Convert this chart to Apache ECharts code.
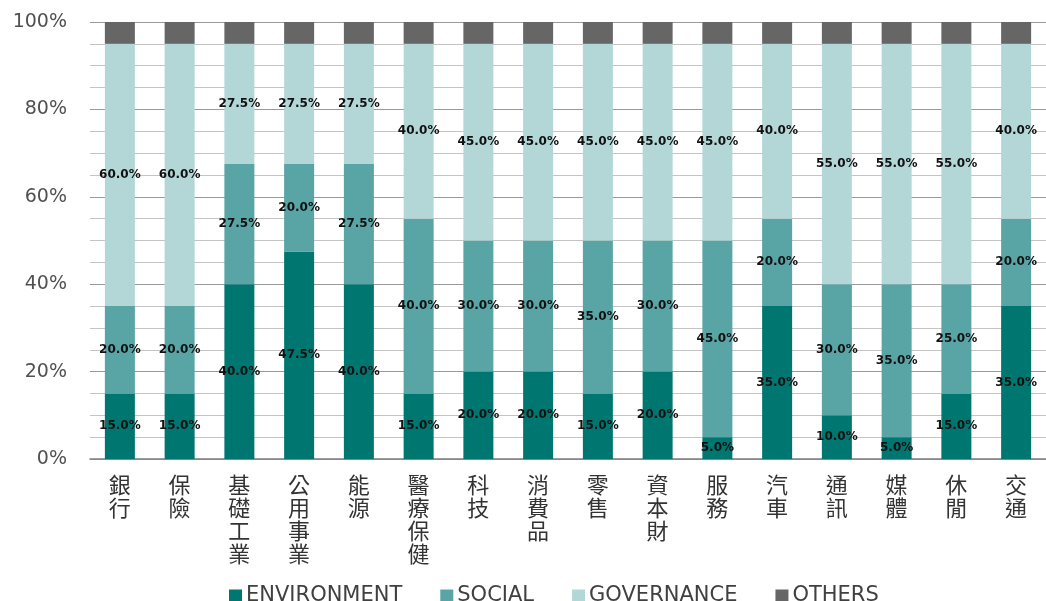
<!DOCTYPE html>
<html>
<head>
<meta charset="utf-8">
<script src="https://cdn.jsdelivr.net/npm/echarts@6/dist/echarts.min.js"></script>
<style>
html,body{margin:0;padding:0;background:#fff;}
#chart{width:1046px;height:601px;}
</style>
</head>
<body>
<div id="chart"></div>
<script>
const categories = ['銀行','保險','基礎工業','公用事業','能源','醫療保健','科技','消費品','零售','資本財','服務','汽車','通訊','媒體','休閒','交通'];
const environment = [15,15,40,47.5,40,15,20,20,15,20,5,35,10,5,15,35];
const social = [20,20,27.5,20,27.5,40,30,30,35,30,45,20,30,35,25,20];
const governance = [60,60,27.5,27.5,27.5,40,45,45,45,45,45,40,55,55,55,40];
const others = [5,5,5,5,5,5,5,5,5,5,5,5,5,5,5,5];
const seriesNames = ['ENVIRONMENT','SOCIAL','GOVERNANCE','OTHERS'];
const colors = ['#007670','#59a4a5','#b3d7d7','#666666'];

const chart = echarts.init(document.getElementById('chart'), null, {renderer:'canvas'});
const labelStyle = {
  show: true,
  position: 'inside',
  color: '#111',
  fontFamily: 'DejaVu Sans',
  fontWeight: 'bold',
  fontSize: 12,
  formatter: p => p.value.toFixed(1) + '%'
};
function mk(name, data, color, showLabel) {
  return {
    name, type: 'bar', stack: 'total', data, barWidth: 30,
    itemStyle: {color},
    label: showLabel ? labelStyle : {show:false},
    emphasis: {disabled: true}
  };
}
const gridColors = [];
for (let i = 0; i <= 20; i++) gridColors.push(i % 4 === 0 ? '#9a9a9a' : '#c4c4c4');

chart.setOption({
  animation: false,
  color: colors,
  grid: {left: 90, top: 22, width: 965, height: 437},
  legend: {
    data: seriesNames,
    left: 224, top: 580,
    itemWidth: 13, itemHeight: 12, itemGap: 38,
    icon: 'rect',
    textStyle: {fontFamily: 'DejaVu Sans', fontSize: 21, color: '#404040', padding: [0,0,0,-1]}
  },
  xAxis: {
    type: 'category', data: categories,
    axisTick: {show:false},
    axisLine: {lineStyle: {color: '#808080', width: 1.5}},
    axisLabel: {
      interval: 0, margin: 14,
      fontFamily: 'Noto Sans CJK TC', fontSize: 22, lineHeight: 23, color: '#333',
      formatter: v => v.split('').join('\n'),
      verticalAlign: 'top'
    }
  },
  yAxis: {
    type: 'value', min: 0, max: 100, interval: 5,
    axisLine: {show:false}, axisTick: {show:false},
    splitLine: {lineStyle: {color: gridColors, width: 1}},
    axisLabel: {
      margin: 23, fontFamily: 'DejaVu Sans', fontSize: 19, color: '#505050',
      formatter: v => (v % 20 === 0 ? v + '%' : '')
    }
  },
  series: [
    mk(seriesNames[0], environment, colors[0], true),
    mk(seriesNames[1], social, colors[1], true),
    mk(seriesNames[2], governance, colors[2], true),
    mk(seriesNames[3], others, colors[3], false)
  ]
});
</script>
</body>
</html>
